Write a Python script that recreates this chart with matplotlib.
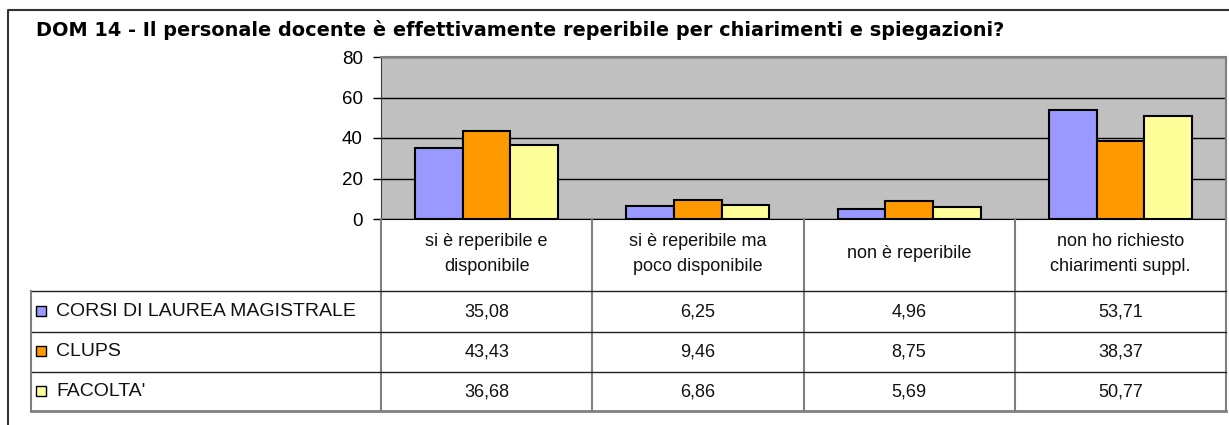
import numpy as np
import matplotlib
matplotlib.use("Agg")
import matplotlib.pyplot as plt
from matplotlib.transforms import blended_transform_factory
from matplotlib.lines import Line2D
from matplotlib.patches import Rectangle

plt.rcParams['font.family'] = ['Liberation Sans', 'DejaVu Sans']

# data
title = "DOM 14 - Il personale docente è effettivamente reperibile per chiarimenti e spiegazioni?"
categories = ["si è reperibile e\ndisponibile", "si è reperibile ma\npoco disponibile",
              "non è reperibile", "non ho richiesto\nchiarimenti suppl."]
series = ["CORSI DI LAUREA MAGISTRALE", "CLUPS", "FACOLTA'"]
magistrale = [35.08, 6.25, 4.96, 53.71]
clups = [43.43, 9.46, 8.75, 38.37]
facolta = [36.68, 6.86, 5.69, 50.77]
yticks = [0, 20, 40, 60, 80]

colors = ["#9999FF", "#FF9900", "#FFFF99"]
all_vals = [magistrale, clups, facolta]

W, H = 1229, 425
fig = plt.figure(figsize=(W / 100, H / 100), dpi=100)

def fx(px):
    return px / W

def fy(px):
    return 1 - px / H

# plot area
ax = fig.add_axes([fx(381), fy(219), fx(1226) - fx(381), fy(57) - fy(219)])
ax.set_facecolor('#C0C0C0')
x = np.arange(len(categories))
w = 0.226
for i, (vals, c) in enumerate(zip(all_vals, colors)):
    ax.bar(x + (i - 1) * w, vals, w, color=c, edgecolor='black', linewidth=1.5, zorder=3)
ax.set_xlim(-0.5, len(categories) - 0.5)
ax.set_ylim(0, 80)
ax.set_yticks(yticks)
ax.set_xticks([])
ax.yaxis.grid(True, color='black', linewidth=1)
ax.set_axisbelow(True)
ax.tick_params(axis='y', length=6, width=1, pad=7, labelsize=13.5)
for s in ['top', 'right']:
    ax.spines[s].set_color('#808080')
    ax.spines[s].set_linewidth(1.5)
ax.spines['left'].set_color('#404040')
ax.spines['bottom'].set_color('black')

# title is drawn wider in the original, DejaVu bold gets closer to that width
fig.text(fx(36), fy(30), title, fontsize=13.9, fontweight='bold', ha='left', va='center',
         family=['DejaVu Sans'])

# table under the plot
tr = blended_transform_factory(ax.transData, fig.transFigure)
row_lines = [291, 332, 372, 411]
row_centers = [312, 352, 392]
gray = '#808080'

for b in np.arange(len(categories) + 1) - 0.5:
    fig.add_artist(Line2D([b, b], [fy(219), fy(411)], transform=tr, color=gray, lw=1.5))
for k, py in enumerate(row_lines):
    col = gray if k == len(row_lines) - 1 else '#202020'
    lw = 2 if k == len(row_lines) - 1 else 1
    fig.add_artist(Line2D([fx(31), fx(1226)], [fy(py), fy(py)], transform=fig.transFigure,
                          color=col, lw=lw))
fig.add_artist(Line2D([fx(31), fx(31)], [fy(291), fy(411)], transform=fig.transFigure,
                      color=gray, lw=1.5))

for i, cat in enumerate(categories):
    ax.text(i, fy(254), cat, transform=tr, ha='center', va='center', fontsize=13,
            linespacing=1.55, color='#111111')

for r, (name, vals, c) in enumerate(zip(series, all_vals, colors)):
    cy = row_centers[r]
    fig.add_artist(Rectangle((fx(36), fy(cy + 4)), fx(10), 10 / H, transform=fig.transFigure,
                             facecolor=c, edgecolor='black', lw=1))
    fig.text(fx(56), fy(cy), name, fontsize=14, ha='left', va='center', color='#111111')
    for j, v in enumerate(vals):
        ax.text(j, fy(cy), f"{v:.2f}".replace('.', ','), transform=tr, ha='center',
                va='center', fontsize=13, color='#111111')

# outer frame
fig.add_artist(Line2D([fx(8), fx(8), 1], [0, fy(10), fy(10)], transform=fig.transFigure,
                      color='#333333', lw=1.5))

fig.savefig("out.png", dpi=100)
